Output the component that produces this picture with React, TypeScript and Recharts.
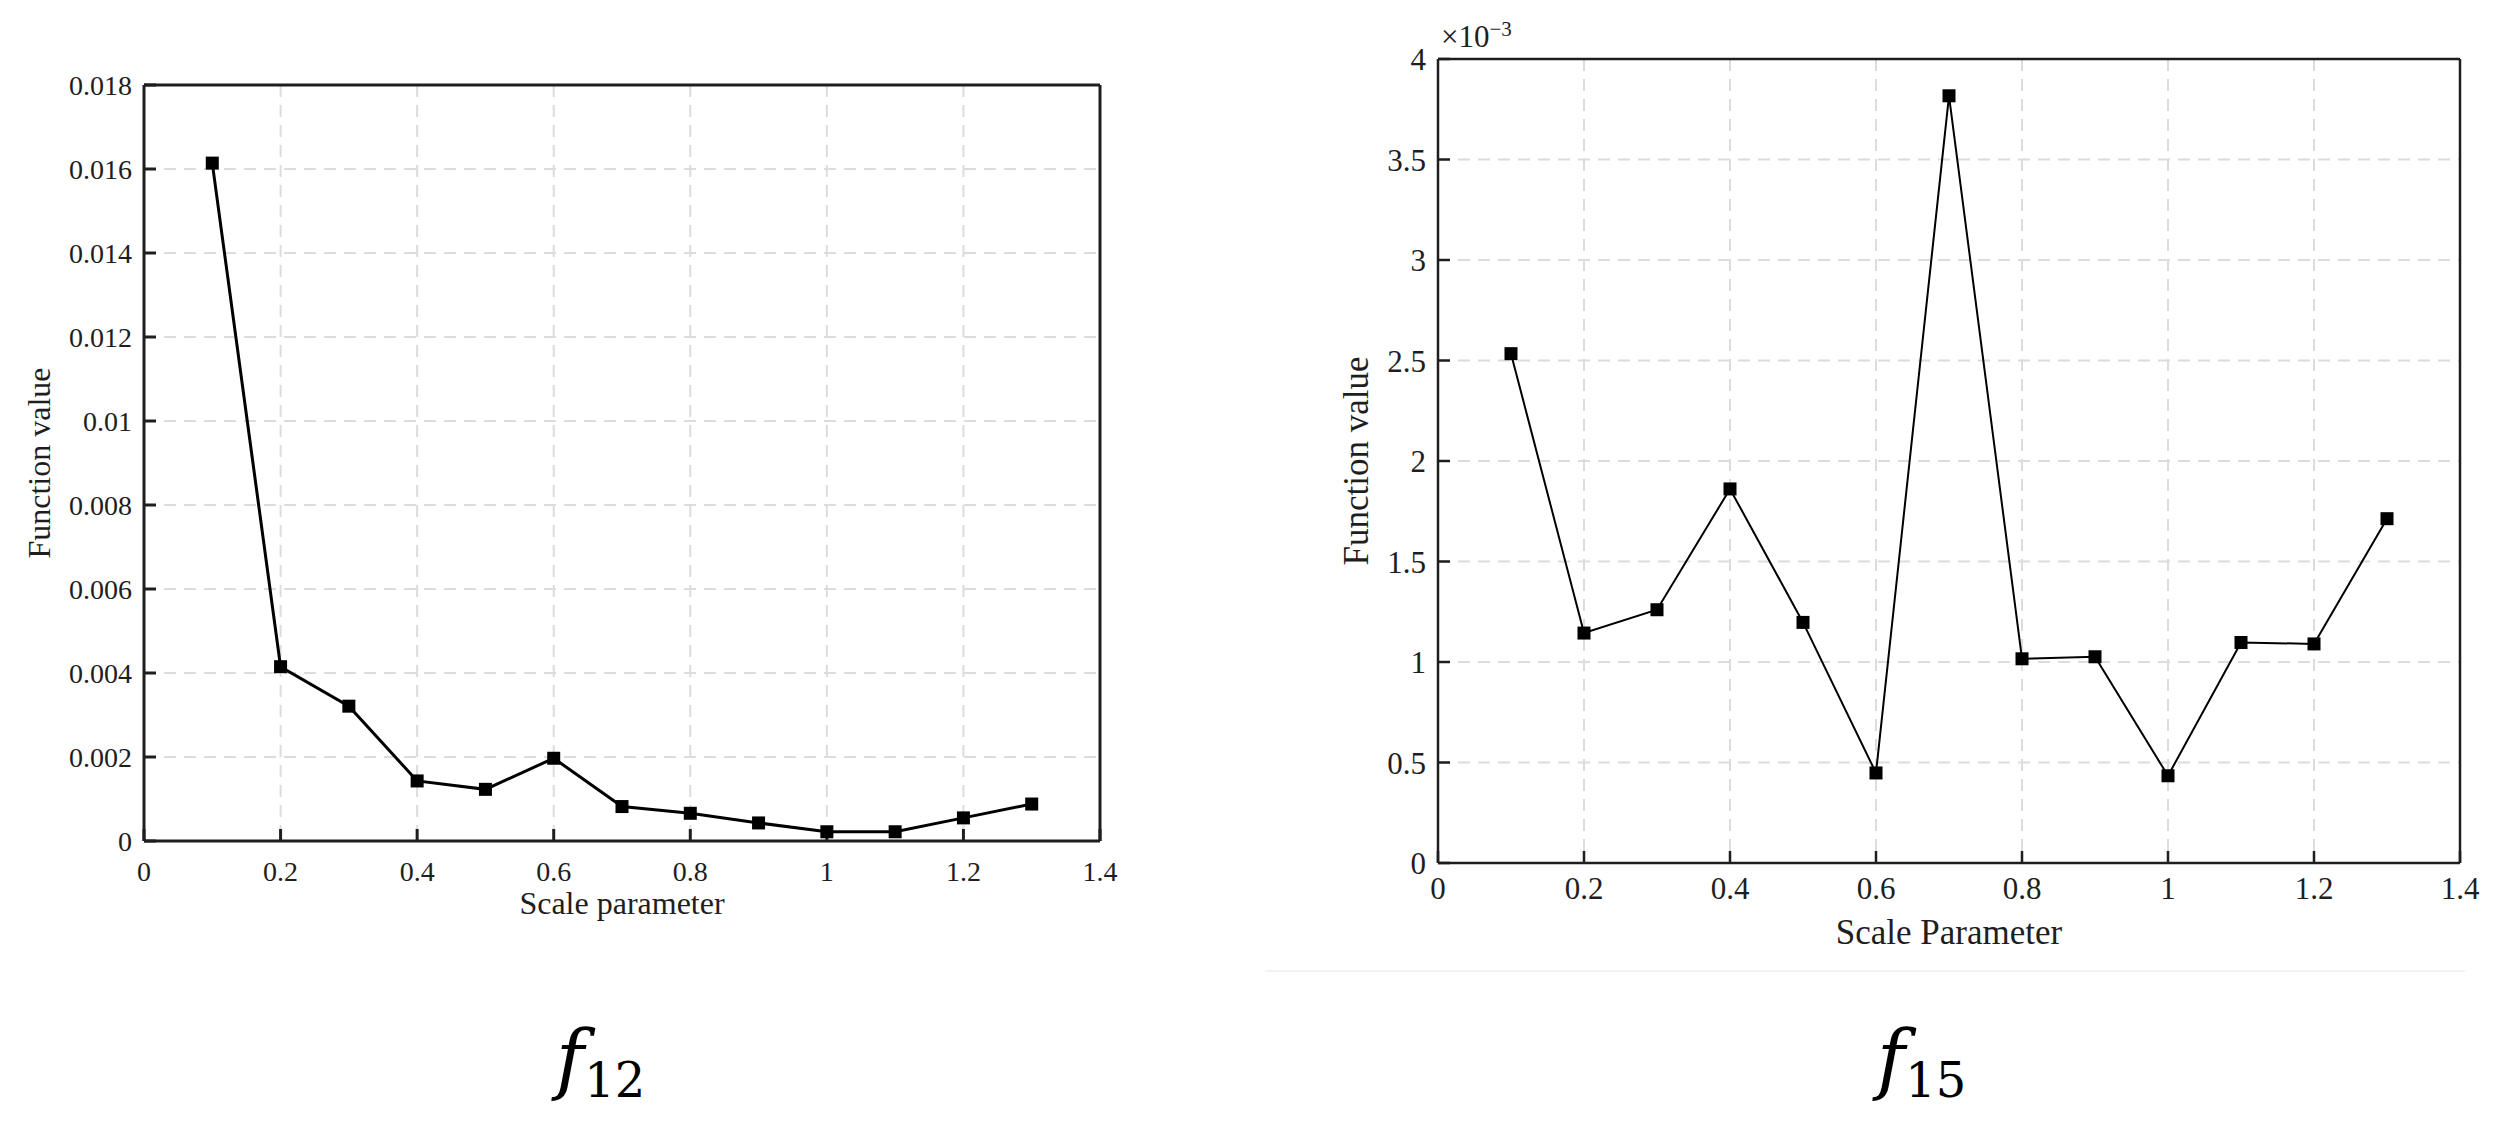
import { LineChart, Line, XAxis, YAxis, CartesianGrid, Label } from "recharts";

// scale parameter values and the function values
const SCALE = [0.1, 0.2, 0.3, 0.4, 0.5, 0.6, 0.7, 0.8, 0.9, 1.0, 1.1, 1.2, 1.3];
const F12_VALUES = [
  0.01614, 0.00415, 0.00321, 0.00143, 0.00123, 0.00197, 0.00082, 0.00066,
  0.00043, 0.00022, 0.00022, 0.00055, 0.00088,
];
const F15_VALUES = [
  0.002534, 0.001144, 0.00126, 0.001861, 0.001197, 0.000448, 0.003817,
  0.001016, 0.001026, 0.000434, 0.001097, 0.00109, 0.001713,
];

const X_TICKS = [0, 0.2, 0.4, 0.6, 0.8, 1, 1.2, 1.4];
const F12_Y_TICKS = [
  0, 0.002, 0.004, 0.006, 0.008, 0.01, 0.012, 0.014, 0.016, 0.018,
];
const F15_Y_TICKS = [0, 0.0005, 0.001, 0.0015, 0.002, 0.0025, 0.003, 0.0035, 0.004];

const FONT = '"Liberation Serif", "Times New Roman", serif';
const INK = "#1e1e1e";

const f12Data = SCALE.map((x, i) => ({ x, y: F12_VALUES[i] }));
const f15Data = SCALE.map((x, i) => ({ x, y: F15_VALUES[i] }));

const squareDot = (size: number) => (props: any) => {
  const { cx, cy, index } = props;
  if (cx == null || cy == null) return <g key={index} />;
  return (
    <rect
      key={index}
      x={cx - size / 2}
      y={cy - size / 2}
      width={size}
      height={size}
      fill="#000"
    />
  );
};

type PanelProps = {
  data: { x: number; y: number }[];
  yTicks: number[];
  yFormat: (v: number) => string;
  width: number;
  height: number;
  margin: { top: number; right: number; bottom: number; left: number };
  fontSize: number;
  titleSize: number;
  axisWidth: number;
  lineWidth: number;
  xTitle: string;
  xTitleOffset: number;
  xAxisHeight: number;
  xTickMargin: number;
  yTitleX: number;
  exponent?: boolean;
};

function Panel(p: PanelProps) {
  const yMax = p.yTicks[p.yTicks.length - 1];
  const tickStyle = { fontSize: p.fontSize, fontFamily: FONT, fill: INK };
  return (
    <LineChart width={p.width} height={p.height} data={p.data} margin={p.margin}>
      <CartesianGrid
        stroke="#dcdcdc"
        strokeWidth={2}
        strokeDasharray="12 8"
      />
      <XAxis
        dataKey="x"
        type="number"
        domain={[0, 1.4]}
        allowDataOverflow
        ticks={X_TICKS}
        interval={0}
        tickFormatter={(v) => String(v)}
        height={p.xAxisHeight}
        tickSize={-12}
        tickMargin={p.xTickMargin}
        tick={tickStyle}
        stroke={INK}
        strokeWidth={p.axisWidth}
        label={{
          value: p.xTitle,
          position: "insideBottom",
          offset: p.xTitleOffset,
          fontSize: p.titleSize,
          fontFamily: FONT,
          fill: INK,
        }}
      />
      <XAxis
        xAxisId="top"
        orientation="top"
        type="number"
        domain={[0, 1.4]}
        allowDataOverflow
        ticks={X_TICKS}
        interval={0}
        height={1}
        tickSize={-12}
        tick={false}
        stroke={INK}
        strokeWidth={p.axisWidth}
      />
      <YAxis
        type="number"
        domain={[0, yMax]}
        allowDataOverflow
        ticks={p.yTicks}
        interval={0}
        tickFormatter={p.yFormat}
        width={100}
        tickSize={-12}
        tickMargin={24}
        tick={tickStyle}
        stroke={INK}
        strokeWidth={p.axisWidth}
      >
        <Label
          content={(lp: any) => {
            const vb = lp.viewBox || { y: 0, height: 0 };
            return (
              <text
                transform={`translate(${p.yTitleX}, ${vb.y + vb.height / 2}) rotate(-90)`}
                textAnchor="middle"
                fontSize={p.titleSize}
                fontFamily={FONT}
                fill={INK}
              >
                Function value
              </text>
            );
          }}
        />
        {p.exponent && (
          <Label
            content={(lp: any) => {
              const vb = lp.viewBox || { x: 0, y: 0, width: 0 };
              return (
                <text
                  x={vb.x + vb.width + 3}
                  y={vb.y - 12}
                  fontSize={31}
                  fontFamily={FONT}
                  fill={INK}
                >
                  ×10
                  <tspan dy={-11} fontSize={21}>
                    −3
                  </tspan>
                </text>
              );
            }}
          />
        )}
      </YAxis>
      <YAxis
        yAxisId="right"
        orientation="right"
        type="number"
        domain={[0, yMax]}
        allowDataOverflow
        ticks={p.yTicks}
        interval={0}
        width={1}
        tickSize={-12}
        tick={false}
        stroke={INK}
        strokeWidth={p.axisWidth}
      />
      <Line
        type="linear"
        dataKey="y"
        stroke="#000"
        strokeWidth={p.lineWidth}
        dot={squareDot(13)}
        activeDot={false}
        isAnimationActive={false}
      />
    </LineChart>
  );
}

export default function App() {
  return (
    <div
      style={{
        position: "absolute",
        left: 0,
        top: 0,
        width: 2510,
        height: 1130,
        background: "#fff",
        fontFamily: FONT,
      }}
    >
      <div style={{ position: "absolute", left: 0, top: 0 }}>
        <Panel
          data={f12Data}
          yTicks={F12_Y_TICKS}
          yFormat={(v) => String(v)}
          width={1140}
          height={960}
          margin={{ top: 84, right: 39, bottom: 39, left: 44 }}
          fontSize={28}
          titleSize={32}
          axisWidth={3}
          lineWidth={3}
          xTitle="Scale parameter"
          xTitleOffset={7}
          xAxisHeight={80}
          xTickMargin={32}
          yTitleX={50}
        />
      </div>
      <div style={{ position: "absolute", left: 1270, top: 0 }}>
        <Panel
          data={f15Data}
          yTicks={F15_Y_TICKS}
          yFormat={(v) => String(Math.round(v * 1e4) / 10)}
          width={1240}
          height={980}
          margin={{ top: 58, right: 49, bottom: 27, left: 68 }}
          fontSize={31}
          titleSize={35}
          axisWidth={2.5}
          lineWidth={2}
          xTitle="Scale Parameter"
          xTitleOffset={9}
          xAxisHeight={90}
          xTickMargin={26}
          yTitleX={98}
          exponent
        />
      </div>
      {/* faint frame edge under the right plot */}
      <div
        style={{
          position: "absolute",
          left: 1265,
          top: 970,
          width: 1200,
          height: 2,
          background: "#f2f2f2",
        }}
      />
      <svg
        width={2510}
        height={150}
        style={{ position: "absolute", left: 0, top: 980 }}
      >
        <text x={556} y={105} fontFamily='"DejaVu Serif", serif' fill="#000">
          <tspan fontStyle="italic" fontSize={76}>
            f
          </tspan>
          <tspan fontSize={48} dy={12}>
            12
          </tspan>
        </text>
        <text x={1877} y={105} fontFamily='"DejaVu Serif", serif' fill="#000">
          <tspan fontStyle="italic" fontSize={76}>
            f
          </tspan>
          <tspan fontSize={48} dy={12}>
            15
          </tspan>
        </text>
      </svg>
    </div>
  );
}
